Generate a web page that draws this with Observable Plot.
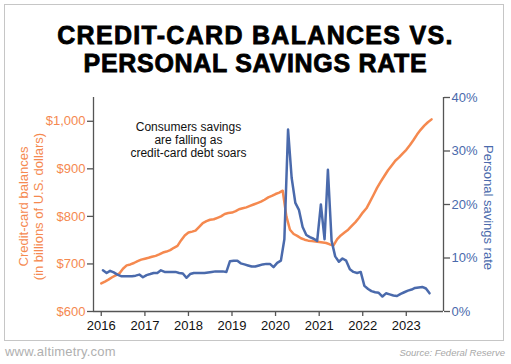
<!DOCTYPE html>
<html><head><meta charset="utf-8">
<script src="https://cdn.jsdelivr.net/npm/d3@7"></script>
<script src="https://cdn.jsdelivr.net/npm/@observablehq/plot@0.6"></script>
<style>
body{margin:0;background:#fff;font-family:"Liberation Sans",Arial,sans-serif;}
#wrap{position:relative;width:511px;height:364px;overflow:hidden;background:#fff;}
#box{position:absolute;left:4px;top:4px;width:498px;height:335px;border:1.5px solid #c6c6c6;}
.title{position:absolute;left:0;width:511px;text-align:center;font-weight:bold;font-size:25px;line-height:28px;height:28px;color:#000;-webkit-text-stroke:0.8px #000;white-space:nowrap;}
#t1{top:21px;letter-spacing:1.3px;}
#t2{top:49px;letter-spacing:0.7px;}
#chart{position:absolute;left:0;top:80px;}
#site{position:absolute;left:5px;top:344px;font-size:13px;color:#b0b0b0;letter-spacing:0.2px;}
#src{position:absolute;right:6px;top:347px;font-size:9.5px;font-style:italic;color:#a8a8a8;}
</style>
</head><body>
<div id="wrap">
<div id="box"></div>
<div class="title" id="t1">CREDIT-CARD BALANCES VS.</div>
<div class="title" id="t2">PERSONAL SAVINGS RATE</div>
<div id="chart"></div>
<div id="site">www.altimetry.com</div>
<div id="src">Source: Federal Reserve</div>
</div>
<script>
// Credit-card balances, billions of U.S. dollars, monthly from Jan 2016
const balances = [659,663,667,672,676,680,690,697,699,702,
  706,709,711,713,715,717,720,724,726,729,
  734,738,750,760,766,768,770,778,786,790,
  793,794,797,800,805,807,808,811,815,817,
  819,822,825,828,831,835,840,843,847,850,
  854,800,772,763,759,754,751,749,748,747,
  746,745,744,741,739,752,760,766,772,780,
  788,797,808,817,830,845,860,873,885,897,
  907,917,924,932,940,950,960,972,982,991,
  998,1004];
// Personal savings rate, %, monthly from Jan 2016
const savingsRate = [7.7,7.2,7.6,7.3,6.9,6.6,6.6,6.6,6.6,6.7,
  6.9,6.4,6.8,7.0,7.2,7.2,7.7,7.4,7.4,7.4,
  7.4,7.2,7.1,6.3,7.0,7.2,7.2,7.2,7.2,7.3,
  7.4,7.5,7.5,7.5,7.4,9.4,9.5,9.5,9.0,8.8,
  8.6,8.4,8.4,8.6,8.8,8.9,8.9,8.3,9.1,9.5,
  13.5,34.0,25.0,20.3,19.0,15.8,14.3,13.9,13.6,13.2,
  20.0,13.5,26.5,13.2,10.3,9.3,9.9,9.5,7.9,7.4,
  7.2,7.4,4.8,4.2,3.8,3.6,3.5,2.8,3.4,3.2,
  3.0,2.9,3.3,3.6,3.9,4.1,4.4,4.5,4.6,4.3,
  3.4];
const yearTicks = [2016,2017,2018,2019,2020,2021,2022,2023];
const balanceTicks = [600,700,800,900,1000];
const rateTicks = [0,10,20,30,40];
const annotationLines = ["Consumers savings","are falling as","credit-card debt soars"];
const leftLabel = ["Credit-card balances","(in billions of U.S. dollars)"];
const rightLabel = "Personal savings rate";

const orange = "#f5894f";
const blue = "#4a6aac";
const axisGray = "#555";
const start = new Date(Date.UTC(2016,0,1));
const balanceData = balances.map((v,i) => ({date: d3.utcMonth.offset(start, i), value: v}));
const rateData = savingsRate.map((v,i) => ({date: d3.utcDay.offset(d3.utcMonth.offset(start, i), 14), value: v}));

const xDomain = [new Date(Date.UTC(2015,9,28)), new Date(Date.UTC(2023,10,9))];
const yMin = 600, yMax = 1050, rMax = 40;
const toY = p => yMin + p * (yMax - yMin) / rMax;
const fromY = y => (y - yMin) * rMax / (yMax - yMin);
const yearDates = yearTicks.map(y => new Date(Date.UTC(y,0,1)));

const chart = Plot.plot({
  width: 511, height: 262,
  marginLeft: 93, marginRight: 68, marginTop: 17, marginBottom: 31,
  style: {fontFamily: '"Liberation Sans", Arial, sans-serif', fontSize: "13px", background: "transparent", overflow: "visible"},
  x: {type: "utc", domain: xDomain},
  y: {domain: [yMin, yMax]},
  marks: [
    // tick marks (gray)
    Plot.axisX(yearDates, {tickSize: 5, tickFormat: () => "", color: axisGray, strokeWidth: 1.3, label: null}),
    Plot.axisY(balanceTicks, {anchor: "left", tickSize: 6, tickFormat: () => "", color: axisGray, strokeWidth: 1.3, label: null}),
    Plot.axisY(rateTicks.map(toY), {anchor: "right", tickSize: 6, tickFormat: () => "", color: axisGray, strokeWidth: 1.3, label: null}),
    // tick labels
    Plot.axisX(yearDates, {tickSize: 0, tickPadding: 9, tickFormat: d3.utcFormat("%Y"), color: "#111", label: null}),
    Plot.axisY(balanceTicks, {anchor: "left", tickSize: 0, tickPadding: 8, tickFormat: d => "$" + d3.format(",")(d), color: orange, label: null}),
    Plot.axisY(rateTicks.map(toY), {anchor: "right", tickSize: 0, tickPadding: 8, tickFormat: d => Math.round(fromY(d)) + "%", color: blue, label: null}),
    // axis lines
    Plot.ruleY([yMin], {stroke: axisGray, strokeWidth: 1.3}),
    Plot.ruleX(xDomain, {stroke: axisGray, strokeWidth: 1.3}),
    // axis titles
    Plot.text([leftLabel.join("\n")], {frameAnchor: "left", textAnchor: "middle", lineAnchor: "middle", rotate: -90, dx: -63, dy: 2, lineHeight: 1.15, fill: orange, fontSize: 13}),
    Plot.text([rightLabel], {frameAnchor: "right", textAnchor: "middle", lineAnchor: "middle", rotate: 90, dx: 45, dy: 3, fill: blue, fontSize: 13}),
    // series
    Plot.line(balanceData, {x: "date", y: "value", stroke: orange, strokeWidth: 2.5}),
    Plot.line(rateData, {x: "date", y: d => toY(d.value), stroke: blue, strokeWidth: 2.5}),
    Plot.text([annotationLines.join("\n")], {x: [new Date(Date.UTC(2018,0,1))], y: [960], lineHeight: 1.08, fontSize: 12, fill: "#111"})
  ]
});
document.getElementById("chart").appendChild(chart);
</script>
</body></html>
